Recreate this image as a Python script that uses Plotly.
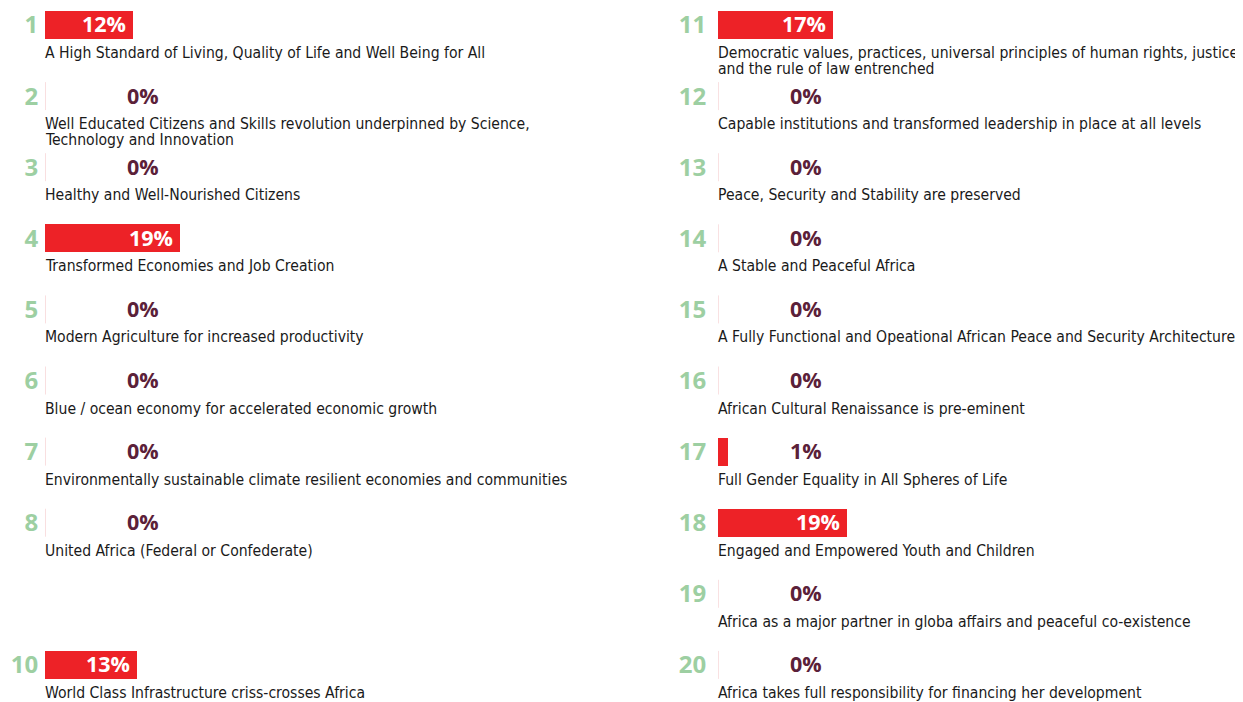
import plotly.graph_objects as go

# ---------------- data ----------------
left_goals = [1, 2, 3, 4, 5, 6, 7, 8, 10]
left_rows = [0, 1, 2, 3, 4, 5, 6, 7, 9]
left_values = [12.4, 0, 0, 19.0, 0, 0, 0, 0, 13.0]
left_desc = [
    ["A High Standard of Living, Quality of Life and Well Being for All"],
    ["Well Educated Citizens and Skills revolution underpinned by Science,", "Technology and Innovation"],
    ["Healthy and Well-Nourished Citizens"],
    ["Transformed Economies and Job Creation"],
    ["Modern Agriculture for increased productivity"],
    ["Blue / ocean economy for accelerated economic growth"],
    ["Environmentally sustainable climate resilient economies and communities"],
    ["United Africa (Federal or Confederate)"],
    ["World Class Infrastructure criss-crosses Africa"],
]

right_goals = [11, 12, 13, 14, 15, 16, 17, 18, 19, 20]
right_rows = [0, 1, 2, 3, 4, 5, 6, 7, 8, 9]
right_values = [16.9, 0, 0, 0, 0, 0, 1.4, 19.0, 0, 0]
right_desc = [
    ["Democratic values, practices, universal principles of human rights, justice", "and the rule of law entrenched"],
    ["Capable institutions and transformed leadership in place at all levels"],
    ["Peace, Security and Stability are preserved"],
    ["A Stable and Peaceful Africa"],
    ["A Fully Functional and Opeational African Peace and Security Architecture"],
    ["African Cultural Renaissance is pre-eminent"],
    ["Full Gender Equality in All Spheres of Life"],
    ["Engaged and Empowered Youth and Children"],
    ["Africa as a major partner in globa affairs and peaceful co-existence"],
    ["Africa takes full responsibility for financing her development"],
]

# ---------------- style ----------------
RED = "#ED2227"
PINK = "#F4C4C6"
MAROON = "#5B2139"
GREEN = "#9DCFA2"
DESC_FONT = "Liberation Sans Narrow, DejaVu Sans Condensed, sans-serif"
NUM_FONT = "Open Sans, Inter, sans-serif"
BAR_W = 0.394
INSIDE_MIN = 5

fig = go.Figure()
shapes = []
annotations = []

columns = [
    (left_goals, left_rows, left_values, left_desc, "x", "y", 13.8),
    (right_goals, right_rows, right_values, right_desc, "x2", "y2", 12.9),
]

for goals, rows, values, descs, xa, ya, label_x in columns:
    fig.add_trace(go.Bar(
        x=values, y=rows, orientation="h", width=BAR_W,
        marker=dict(color=RED, line=dict(width=0)),
        xaxis=xa, yaxis=ya, hoverinfo="skip", showlegend=False,
    ))
    for r, v, lines in zip(rows, values, descs):
        inside = v >= INSIDE_MIN
        annotations.append(dict(
            xref=xa, yref=ya, x=v if inside else label_x, y=r,
            xanchor="right" if inside else "center", yanchor="middle",
            xshift=-5 if inside else 0, yshift=1,
            text=f"{v:.0f}%", showarrow=False,
            font=dict(family=NUM_FONT, size=21.5, weight="bold",
                      color="white" if inside else MAROON),
        ))
        if v == 0:
            shapes.append(dict(type="line", xref=xa, yref=ya, x0=0, x1=0,
                               y0=r - BAR_W / 2, y1=r + BAR_W / 2,
                               line=dict(color=PINK, width=1)))
        for k, line in enumerate(lines):
            annotations.append(dict(
                xref=xa, yref=ya, x=0, y=r, xanchor="left", yanchor="top",
                text=line, showarrow=False, xshift=-2, yshift=-17 - 16 * k,
                font=dict(family=DESC_FONT, size=15.6, color="#1a1a1a"),
            ))

yrange = [9.634, -0.239]
axis_common = dict(showgrid=False, zeroline=False, showline=False, automargin=False)
fig.update_layout(
    width=1243, height=702,
    margin=dict(l=0, r=0, t=0, b=0, pad=0),
    paper_bgcolor="white", plot_bgcolor="white",
    bargap=0,
    xaxis=dict(domain=[0.0298, 0.4868], range=[0, 80], showticklabels=False, **axis_common),
    xaxis2=dict(domain=[0.5712, 0.9815], range=[0, 75], showticklabels=False, **axis_common),
    yaxis=dict(range=yrange, tickvals=left_rows, ticktext=[str(g) for g in left_goals],
               ticks="outside", ticklen=1, tickcolor="rgba(0,0,0,0)",
               ticklabeloverflow="allow",
               tickfont=dict(family=NUM_FONT, size=24, color=GREEN, weight="bold"),
               anchor="x", **axis_common),
    yaxis2=dict(range=yrange, tickvals=right_rows, ticktext=[str(g) for g in right_goals],
                ticks="outside", ticklen=6, tickcolor="rgba(0,0,0,0)",
                ticklabeloverflow="allow",
                tickfont=dict(family=NUM_FONT, size=24, color=GREEN, weight="bold"),
                anchor="x2", **axis_common),
    shapes=shapes,
    annotations=annotations,
)

fig.write_html("out.html")
